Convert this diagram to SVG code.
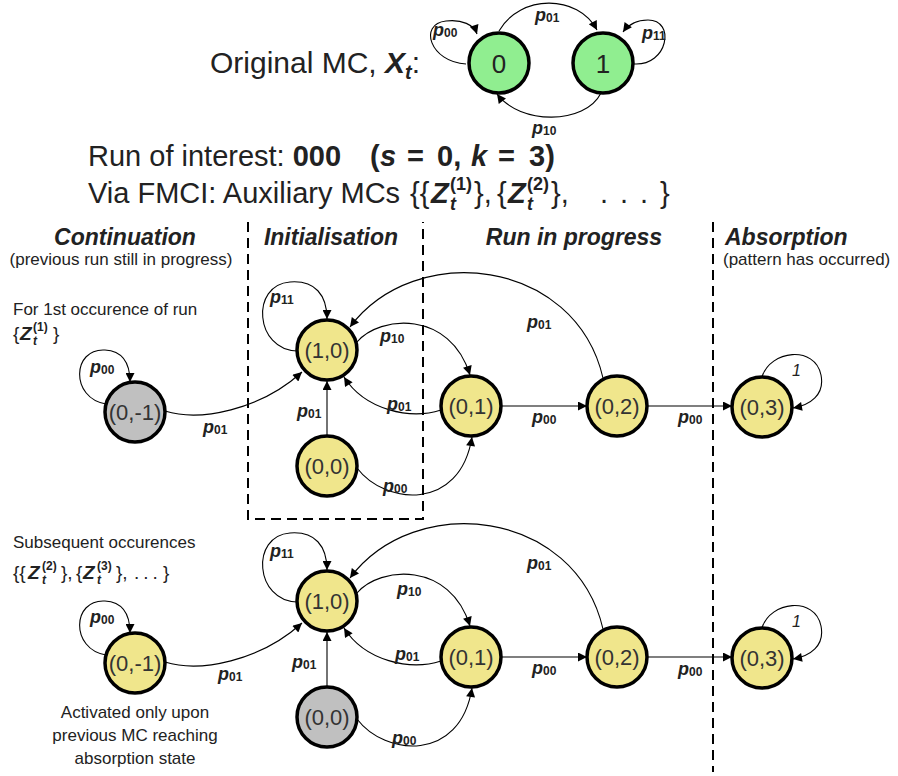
<svg xmlns="http://www.w3.org/2000/svg" width="898" height="776" viewBox="0 0 898 776">
<defs>
<marker id="ah" viewBox="0 0 10 10" refX="10" refY="5" markerWidth="11" markerHeight="9" markerUnits="userSpaceOnUse" orient="auto"><path d="M0,0 L10,5 L0,10 z" fill="#000"/></marker>
<style>
text{font-family:"Liberation Sans",Arial,Helvetica,sans-serif;fill:#222}
.node circle{stroke:#000;stroke-width:3.5}
.y{fill:#F0E68C}.g{fill:#C0C0C0}.gr{fill:#90EE90}
.nl{font-size:22px;text-anchor:middle;fill:#333}
.big{font-size:29px}
.hd{font-size:23px;font-weight:bold;font-style:italic}
.sm{font-size:17px}
.lb{font-size:18px;font-weight:bold;font-style:italic}
.lb tspan{font-size:12px;font-style:normal}
.e{fill:none;stroke:#000;stroke-width:1.1;marker-end:url(#ah)}
.dash{fill:none;stroke:#000;stroke-width:2;stroke-dasharray:10 6}
.bi{font-weight:bold;font-style:italic}
.b{font-weight:bold}
</style>
</defs>
<rect width="898" height="776" fill="#fff"/>

<!-- Title -->
<text x="210" y="73" style="font-size:30px">Original MC, <tspan class="bi">X</tspan><tspan class="bi" style="font-size:20px" dy="6">t</tspan><tspan dy="-6">:</tspan></text>
<text x="88" y="166" class="big">Run of interest: <tspan class="b">000</tspan></text>
<text y="166" class="big b"><tspan x="370">(</tspan><tspan x="380" class="bi">s</tspan><tspan x="407">=</tspan><tspan x="437">0,</tspan><tspan x="471" class="bi">k</tspan><tspan x="498">=</tspan><tspan x="529">3)</tspan></text>
<text x="88" y="203" class="big">Via FMCI: Auxiliary MCs</text>
<g class="big">
<text x="410" y="203">{{</text>
<text x="431" y="203" class="bi">Z</text>
<text x="450" y="210" class="bi" style="font-size:18px">t</text>
<text x="450" y="190" class="b" style="font-size:18px">(1)</text>
<text x="474" y="203">},</text>
<text x="497" y="203">{</text>
<text x="508" y="203" class="bi">Z</text>
<text x="527" y="210" class="bi" style="font-size:18px">t</text>
<text x="527" y="190" class="b" style="font-size:18px">(2)</text>
<text x="551" y="203">},</text>
<text x="600" y="203">.</text>
<text x="620" y="203">.</text>
<text x="640" y="203">.</text>
<text x="660" y="203">}</text>
</g>

<!-- Top MC -->
<g id="mc-edges">
<path class="e" d="M466,64 C430,62 418,24 446,21 C462,19 474,25 477,34"/>
<path class="e" d="M499,31 C520,-6 578,-6 597,30"/>
<path class="e" d="M634,64 C668,66 676,20 648,20 C636,20 628,25 623,32"/>
<path class="e" d="M601,93 C585,125 520,125 497,94"/>
</g>
<text x="433" y="36" class="lb">p<tspan dy="1">00</tspan></text>
<text x="535" y="21" class="lb">p<tspan dy="1">01</tspan></text>
<text x="642" y="39" class="lb">p<tspan dy="1">11</tspan></text>
<text x="532" y="134" class="lb">p<tspan dy="1">10</tspan></text>
<g id="mc0" class="node"><circle cx="499" cy="63" r="30" class="gr"/><text x="499" y="73" style="font-size:26px;text-anchor:middle;fill:#222">0</text></g>
<g id="mc1" class="node"><circle cx="603" cy="63" r="30" class="gr"/><text x="603" y="73" style="font-size:26px;text-anchor:middle;fill:#222">1</text></g>

<!-- Headers -->
<text x="125" y="245" class="hd" text-anchor="middle">Continuation</text>
<text x="121" y="265" class="sm" text-anchor="middle">(previous run still in progress)</text>
<text x="331" y="245" class="hd" text-anchor="middle">Initialisation</text>
<text x="574" y="245" class="hd" text-anchor="middle">Run in progress</text>
<text x="725" y="245" class="hd">Absorption</text>
<text x="723" y="265" class="sm">(pattern has occurred)</text>

<g id="dividers">
<path class="dash" d="M248,222 V519 H423 V222"/>
<path class="dash" d="M713,222 V772"/>
</g>

<!-- Side texts -->
<text x="13" y="315" class="sm">For 1st occurence of run</text>
<g style="font-size:19px">
<text x="13" y="340">{</text>
<text x="20" y="340" class="bi">Z</text>
<text x="33" y="345" class="bi" style="font-size:12px">t</text>
<text x="33" y="331" class="b" style="font-size:12px">(1)</text>
<text x="53" y="340">}</text>
</g>
<text x="13" y="548" class="sm">Subsequent occurences</text>
<g style="font-size:19px">
<text x="13" y="579">{{</text>
<text x="28" y="579" class="bi">Z</text>
<text x="42" y="584" class="bi" style="font-size:12px">t</text>
<text x="42" y="570" class="b" style="font-size:12px">(2)</text>
<text x="61" y="579">},</text>
<text x="76" y="579">{</text>
<text x="83" y="579" class="bi">Z</text>
<text x="97" y="584" class="bi" style="font-size:12px">t</text>
<text x="97" y="570" class="b" style="font-size:12px">(3)</text>
<text x="116" y="579">},</text>
<text x="134" y="579" style="letter-spacing:4px">...</text>
<text x="163" y="579">}</text>
</g>
<text x="135" y="718" class="sm" text-anchor="middle">Activated only upon</text>
<text x="135" y="741" class="sm" text-anchor="middle">previous MC reaching</text>
<text x="135" y="764" class="sm" text-anchor="middle">absorption state</text>

<!-- Connectors top row -->
<g id="connectors-top">
<path class="e" d="M106,404 C70,398 72,348 105,350 C122,351 130,362 130,382"/>
<path class="e" d="M165,411 C200,422 260,410 302,372"/>
<path class="e" d="M297,351 C255,350 250,285 290,282 C315,280 327,295 327,319"/>
<path class="e" d="M357,342 C380,315 450,310 470,375"/>
<path class="e" d="M441,410 C410,420 365,410 344,377"/>
<path class="e" d="M327,436 L327,381"/>
<path class="e" d="M357,468 C385,505 460,512 472,437"/>
<path class="e" d="M603,378 C575,258 415,240 350,327"/>
<path class="e" d="M501,406 L587,406"/>
<path class="e" d="M647,406 L732,406"/>
<path class="e" d="M762,377 C770,350 815,345 821,375 C825,395 810,405 793,408"/>
</g>
<g id="connectors-bottom" transform="translate(0,251)">
<path class="e" d="M106,404 C70,398 72,348 105,350 C122,351 130,362 130,382"/>
<path class="e" d="M165,411 C200,422 260,410 302,372"/>
<path class="e" d="M297,351 C255,350 250,285 290,282 C315,280 327,295 327,319"/>
<path class="e" d="M357,342 C380,315 450,310 470,375"/>
<path class="e" d="M441,410 C410,420 365,410 344,377"/>
<path class="e" d="M327,436 L327,381"/>
<path class="e" d="M357,468 C385,505 460,512 472,437"/>
<path class="e" d="M603,378 C575,258 415,240 350,327"/>
<path class="e" d="M501,406 L587,406"/>
<path class="e" d="M647,406 L732,406"/>
<path class="e" d="M762,377 C770,350 815,345 821,375 C825,395 810,405 793,408"/>
</g>

<!-- Edge labels top -->
<g id="labels-top">
<text x="90" y="373" class="lb">p<tspan dy="1">00</tspan></text>
<text x="203" y="433" class="lb">p<tspan dy="1">01</tspan></text>
<text x="270" y="303" class="lb">p<tspan dy="1">11</tspan></text>
<text x="380" y="342" class="lb">p<tspan dy="1">10</tspan></text>
<text x="387" y="410" class="lb">p<tspan dy="1">01</tspan></text>
<text x="297" y="417" class="lb">p<tspan dy="1">01</tspan></text>
<text x="383" y="492" class="lb">p<tspan dy="1">00</tspan></text>
<text x="527" y="328" class="lb">p<tspan dy="1">01</tspan></text>
<text x="532" y="423" class="lb">p<tspan dy="1">00</tspan></text>
<text x="678" y="423" class="lb">p<tspan dy="1">00</tspan></text>
<text x="792" y="376" style="font-size:16px;font-style:italic">1</text>
</g>
<g id="labels-bottom">
<text x="90" y="623" class="lb">p<tspan dy="1">00</tspan></text>
<text x="218" y="680" class="lb">p<tspan dy="1">01</tspan></text>
<text x="270" y="557" class="lb">p<tspan dy="1">11</tspan></text>
<text x="397" y="595" class="lb">p<tspan dy="1">10</tspan></text>
<text x="395" y="660" class="lb">p<tspan dy="1">01</tspan></text>
<text x="292" y="668" class="lb">p<tspan dy="1">01</tspan></text>
<text x="392" y="744" class="lb">p<tspan dy="1">00</tspan></text>
<text x="527" y="569" class="lb">p<tspan dy="1">01</tspan></text>
<text x="532" y="674" class="lb">p<tspan dy="1">00</tspan></text>
<text x="678" y="675" class="lb">p<tspan dy="1">00</tspan></text>
<text x="792" y="627" style="font-size:16px;font-style:italic">1</text>
</g>

<!-- Nodes top -->
<g id="t-0m1" class="node"><circle cx="135" cy="412" r="30" class="g"/><text x="135" y="420" class="nl">(0,-1)</text></g>
<g id="t-10" class="node"><circle cx="327" cy="350" r="30" class="y"/><text x="327" y="358" class="nl">(1,0)</text></g>
<g id="t-00" class="node"><circle cx="327" cy="466" r="30" class="y"/><text x="327" y="474" class="nl">(0,0)</text></g>
<g id="t-01" class="node"><circle cx="471" cy="406" r="30" class="y"/><text x="471" y="414" class="nl">(0,1)</text></g>
<g id="t-02" class="node"><circle cx="617" cy="406" r="30" class="y"/><text x="617" y="414" class="nl">(0,2)</text></g>
<g id="t-03" class="node"><circle cx="762" cy="407" r="30" class="y"/><text x="762" y="415" class="nl">(0,3)</text></g>
<!-- Nodes bottom -->
<g id="b-0m1" class="node"><circle cx="135" cy="663" r="30" class="y"/><text x="135" y="671" class="nl">(0,-1)</text></g>
<g id="b-10" class="node"><circle cx="327" cy="601" r="30" class="y"/><text x="327" y="609" class="nl">(1,0)</text></g>
<g id="b-00" class="node"><circle cx="327" cy="717" r="30" class="g"/><text x="327" y="725" class="nl">(0,0)</text></g>
<g id="b-01" class="node"><circle cx="471" cy="657" r="30" class="y"/><text x="471" y="665" class="nl">(0,1)</text></g>
<g id="b-02" class="node"><circle cx="617" cy="657" r="30" class="y"/><text x="617" y="665" class="nl">(0,2)</text></g>
<g id="b-03" class="node"><circle cx="762" cy="658" r="30" class="y"/><text x="762" y="666" class="nl">(0,3)</text></g>
</svg>
